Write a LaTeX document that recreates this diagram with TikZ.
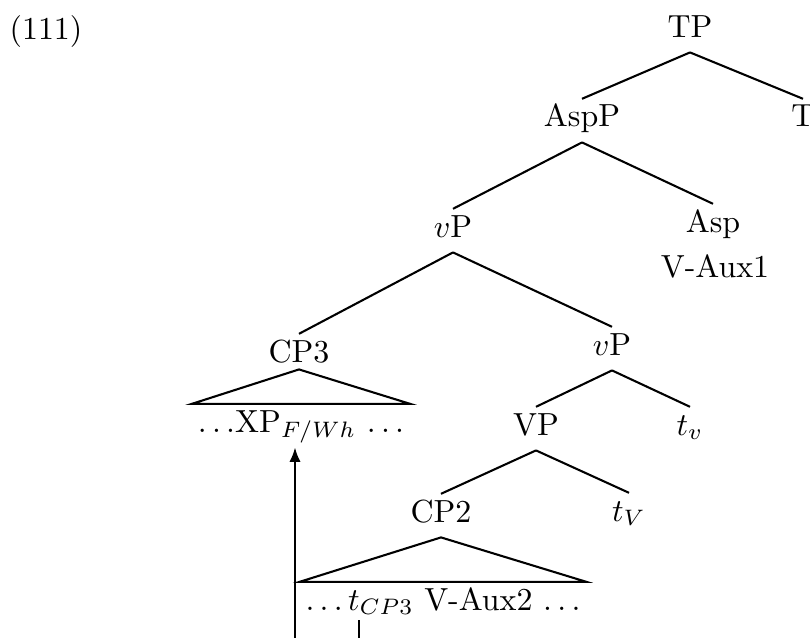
\documentclass[tikz,border=0pt]{standalone}
\usepackage{amsmath,amssymb}
\usetikzlibrary{arrows.meta}

\begin{document}
\begin{tikzpicture}[x=0.011cm,y=-0.011cm,line width=0.65pt,
  cat/.style={anchor=base,inner sep=2pt,text height=6.5pt,text depth=2.5pt},
  yield/.style={cat,inner xsep=1.5pt}]
  \useasboundingbox (0,0) rectangle (810,638);
  \node[anchor=base] (exNum) at (46,40) {(111)};
  \node[cat] (TP) at (690,37) {TP};
  \node[cat] (AspP) at (582,127) {AspP};
  \node[cat] (T) at (803,127) {T};
  \node[cat] (vPup) at (453,237) {$v$P};
  \node[cat] (Asp) at (713,232) {Asp};
  \node[cat] (aspWord) at (715,277) {V-Aux1};
  \node[cat] (CPthree) at (299,362) {CP3};
  \node[cat] (vPlow) at (612,355) {$v$P};
  \node[yield] (cpThreeYield) at (301,432) {$\ldots$XP$_{F/Wh}$ $\ldots$};
  \node[cat] (VP) at (536,435) {VP};
  \node[cat] (tv) at (690,435) {$t_v$};
  \node[cat] (CPtwo) at (441,522) {CP2};
  \node[cat] (tV) at (629,521) {$t_V$};
  \node[yield] (cpTwoYield) at (443,610) {$\ldots t_{CP3}$ V-Aux2 $\ldots$};
  \coordinate (moveFoot) at (295,638);
  \coordinate (traceTop) at (359,620);
  \coordinate (traceFoot) at (359,638);

  \draw (TP.south) -- (AspP.north);
  \draw (TP.south) -- (T.north);
  \draw (AspP.south) -- (vPup.north);
  \draw (AspP.south) -- (Asp.north);
  \draw (vPup.south) -- (CPthree.north);
  \draw (vPup.south) -- (vPlow.north);
  \draw (vPlow.south) -- (VP.north);
  \draw (vPlow.south) -- (tv.north);
  \draw (VP.south) -- (CPtwo.north);
  \draw (VP.south) -- (tV.north);
  \draw ([yshift=2.5pt]CPthree.south) -- (cpThreeYield.north west) -- (cpThreeYield.north east) -- cycle;
  \draw (CPtwo.south) -- (cpTwoYield.north west) -- (cpTwoYield.north east) -- cycle;
  \draw[-{Latex[length=4.5pt,width=3.5pt]}] (moveFoot) -- (moveFoot |- cpThreeYield.south);
  \draw (traceTop) -- (traceFoot);
\end{tikzpicture}
\end{document}
